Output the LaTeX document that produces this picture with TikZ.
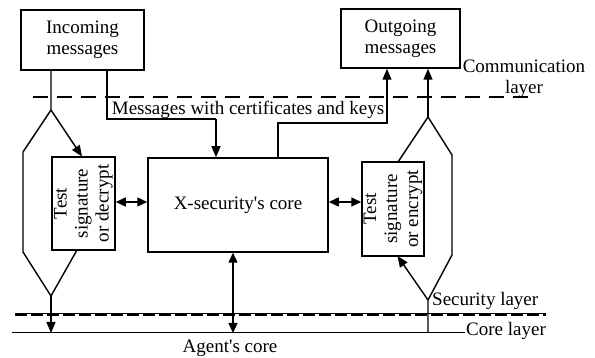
\documentclass[tikz,border=0pt]{standalone}
\usepackage{fontspec}
\setmainfont{Liberation Serif}[Ligatures=TeXOff]
\usetikzlibrary{arrows.meta}
\begin{document}
\begin{tikzpicture}[x=1pt,y=1pt,
  txt/.style={font=\fontsize{19}{21}\selectfont, align=center},
  box/.style={txt, draw, line width=1.5pt, inner sep=0pt},
  flow/.style={line width=1.4pt},
  tip/.style={-{Triangle[length=11pt,width=9pt]}},
  both/.style={{Triangle[length=10pt,width=9pt]}-{Triangle[length=10pt,width=9pt]}},
  lbl/.style={txt, inner sep=0pt}]
\useasboundingbox (0,0) rectangle (595,358);

% boxes
\node[box, minimum width=123pt, minimum height=60pt] (inc) at (82.5,318) {Incoming\\messages};
\node[box, minimum width=119pt, minimum height=59pt] (out) at (400.5,319.5) {Outgoing\\messages};
\node[box, minimum width=180pt, minimum height=94pt] (core) at (238,153) {X-security's core};
\node[box, rotate=90, minimum width=93pt, minimum height=63pt] (tdec) at (83.5,154.5) {Test\\signature\\or decrypt};
\node[box, rotate=90, minimum width=94pt, minimum height=62pt] (tenc) at (393,149) {Test\\signature\\or encrypt};

% layer lines
\draw[line width=2.3pt, dash pattern=on 15pt off 9pt] (33,261) -- (528,261);
\draw[line width=0.8pt] (15,45) -- (546,45);
\draw[line width=2.6pt, dash pattern=on 12pt off 4pt] (15,43.2) -- (546,43.2);
\draw[line width=1pt] (12,25) coordinate (cl0) -- (465,25) coordinate (cl1);

% layer labels
\node[lbl] (comm) at (524,279) {Communication\\layer};
\node[lbl, anchor=west] (secl) at (432,57) {Security layer};
\node[lbl, anchor=west] (corel) at (466,27) {Core layer};
\node[lbl] (agent) at (230,10) {Agent's core};

% incoming side
\coordinate (splitL) at (51,248);
\coordinate (leftTop) at (23,206);
\coordinate (leftBot) at (23,106);
\coordinate (joinL) at (51,62);
\coordinate (coreA) at (51,25);
\draw[flow] (inc.south -| splitL) -- (splitL) -- (leftTop) -- (leftBot) -- (joinL);
\draw[flow, tip] (splitL) -- (82,201.5);
\draw[flow] (77,108) -- (joinL);
\draw[flow, tip] (joinL) -- (coreA);

% messages with certificates and keys
\coordinate (m0) at (107,239);
\coordinate (m1) at (216,239);
\draw[flow] (inc.south -| m0) -- (m0) -- (m1);
\draw[flow, tip] (m1) -- (core.north -| m1);
\coordinate (k0) at (278,235);
\coordinate (k1) at (387,235);
\draw[flow, tip] (core.north -| k0) -- (k0) -- (k1) -- (out.south -| k1);
\node[lbl, anchor=base] (msg) at (248,243) {Messages with certificates and keys};

% outgoing side
\coordinate (splitR) at (428,241);
\coordinate (rightTop) at (452,203);
\coordinate (rightBot) at (452,103);
\coordinate (joinR) at (428,58);
\coordinate (coreB) at (428,25);
\draw[flow, tip] (splitR) -- (out.south -| splitR);
\draw[flow] (398,196) -- (splitR) -- (rightTop) -- (rightBot) -- (joinR) -- (coreB);
\draw[flow, tip] (joinR) -- (397.5,102);

% exchanges with the core
\draw[flow, both] (tdec.south |- 0,156) -- (core.west |- 0,156);
\draw[flow, both] (core.east |- 0,156) -- (tenc.north |- 0,156);
\draw[flow, both] (core.south -| 233,0) -- (233,25);
\end{tikzpicture}
\end{document}
